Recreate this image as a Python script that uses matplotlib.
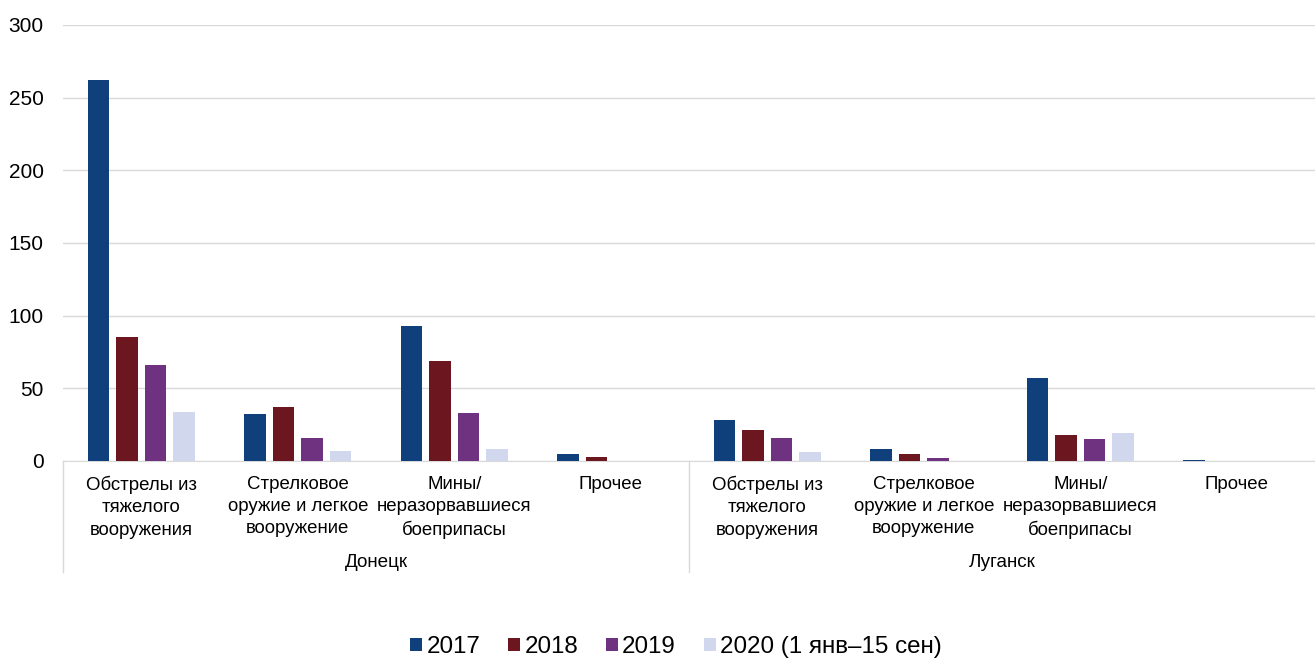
import numpy as np
import matplotlib.pyplot as plt
from matplotlib.lines import Line2D

plt.rcParams['font.family'] = ['Liberation Sans', 'DejaVu Sans']

# data
categories = ["Обстрелы из\nтяжелого\nвооружения",
              "Стрелковое\nоружие и легкое\nвооружение",
              "Мины/\nнеразорвавшиеся\nбоеприпасы",
              "Прочее"]
regions = ["Донецк", "Луганск"]
years = ["2017", "2018", "2019", "2020 (1 янв–15 сен)"]
# order: Донецк (4 categories) then Луганск (4 categories)
v2017 = [262, 32, 93, 5, 28, 8, 57, 1]
v2018 = [85, 37, 69, 3, 21, 5, 18, 0]
v2019 = [66, 16, 33, 0, 16, 2, 15, 0]
v2020 = [34, 7, 8, 0, 6, 0, 19, 0]
colors = ["#0f407b", "#6c1720", "#6e3280", "#d1d7ec"]

series = [v2017, v2018, v2019, v2020]

fig = plt.figure(figsize=(13.15, 6.59), dpi=100)
ax = fig.add_axes([63 / 1315, 1 - 461 / 659, 1 - 63 / 1315, 436 / 659])

x = np.arange(len(v2017))
step = 0.182
width = 0.14
for i, (vals, col, lab) in enumerate(zip(series, colors, years)):
    ax.bar(x + (i - 1.5) * step, vals, width, color=col, label=lab, zorder=3)

ax.set_xlim(-0.5, 7.5)
ax.set_ylim(0, 300)
ax.set_yticks(range(0, 301, 50))
ax.tick_params(axis='y', length=0, pad=14, labelsize=15)
ax.set_xticks([])
ax.grid(axis='y', color='#d9d9d9', linewidth=1, zorder=0)
for s in ['top', 'right', 'left']:
    ax.spines[s].set_visible(False)
ax.spines['bottom'].set_color('#d9d9d9')

# two-level category labels
tr = ax.get_xaxis_transform()
for r, reg in enumerate(regions):
    for c, cat in enumerate(categories):
        ax.text(r * 4 + c, -0.034, cat, transform=tr, ha='center', va='top',
                fontsize=13.4, linespacing=1.4)
    ax.text(r * 4 + 1.5, -0.232, reg, transform=tr, ha='center', va='center',
            fontsize=13.6)
for xs in [-0.5, 3.5]:
    ax.add_line(Line2D([xs, xs], [0, -0.255], transform=tr, color='#d9d9d9',
                       linewidth=1, clip_on=False))

fig.legend(loc='center', bbox_to_anchor=(0.514, 1 - 647 / 659), ncol=4,
           frameon=False, fontsize=17.4, handlelength=0.5, handleheight=0.5,
           handletextpad=0.17, columnspacing=1.15)

fig.savefig("out.png", dpi=100)
